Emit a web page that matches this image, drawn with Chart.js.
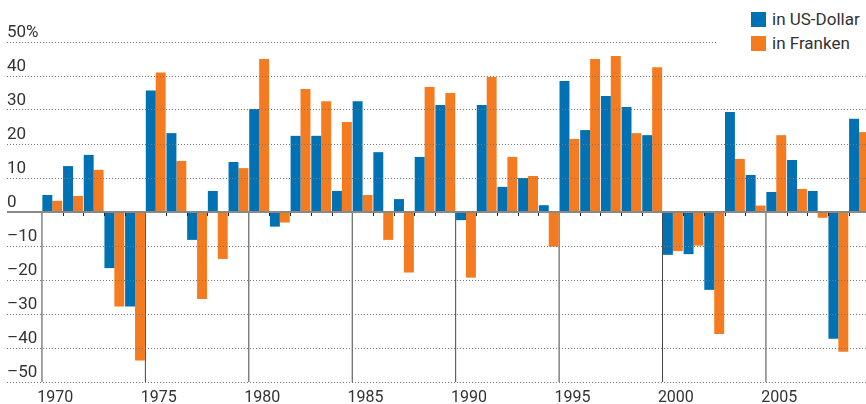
<!DOCTYPE html>
<html>
<head>
    <meta charset="UTF-8">
    <title>Rendite in US-Dollar und Franken</title>
    <script src="https://cdn.jsdelivr.net/npm/chart.js"></script>
    <style>
        html, body {
            margin: 0;
            padding: 0;
            overflow: hidden;
            background: #fff;
        }
        .wrap {
            position: relative;
            width: 866px;
            height: 404px;
            overflow: hidden;
        }
        .legend {
            position: absolute;
            left: 717px;
            top: 7px;
            width: 115px;
            padding-left: 34px;
            background: #fff;
            font-family: Roboto, sans-serif;
            font-size: 17px;
            color: #333;
        }
        .legend div {
            display: flex;
            align-items: center;
            height: 24px;
        }
        .legend span {
            display: inline-block;
            width: 15px;
            height: 15px;
            margin-right: 6px;
        }
    </style>
</head>
<body>
<div class="wrap">
    <canvas id="chart" width="870" height="404"></canvas>
    <div class="legend">
        <div><span style="background:#0071b2"></span>in US-Dollar</div>
        <div><span style="background:#f47b20"></span>in Franken</div>
    </div>
</div>

<script>
    const years = [
        1970, 1971, 1972, 1973, 1974, 1975, 1976, 1977, 1978, 1979,
        1980, 1981, 1982, 1983, 1984, 1985, 1986, 1987, 1988, 1989,
        1990, 1991, 1992, 1993, 1994, 1995, 1996, 1997, 1998, 1999,
        2000, 2001, 2002, 2003, 2004, 2005, 2006, 2007, 2008, 2009
    ];
    const usd = [
        5.0, 13.5, 16.8, -16.5, -27.8, 35.7, 23.2, -8.2, 6.2, 14.7,
        30.3, -4.3, 22.4, 22.4, 6.2, 32.6, 17.6, 3.8, 16.2, 31.5,
        -2.4, 31.5, 7.4, 10.0, 2.0, 38.5, 24.1, 34.1, 30.9, 22.6,
        -12.6, -12.4, -22.9, 29.4, 10.9, 5.9, 15.3, 6.2, -37.3, 27.4
    ];
    const chf = [
        3.3, 4.7, 12.4, -27.8, -43.7, 41.0, 15.0, -25.6, -13.8, 12.9,
        45.0, -3.1, 36.2, 32.6, 26.5, 5.0, -8.2, -17.8, 36.8, 35.0,
        -19.3, 39.7, 16.2, 10.6, -10.2, 21.5, 45.0, 45.9, 23.2, 42.6,
        -11.5, -9.9, -35.9, 15.6, 1.9, 22.6, 6.8, -1.7, -41.1, 23.5
    ];
    const yTicks = [-50, -40, -30, -20, -10, 0, 10, 20, 30, 40, 50];
    const xMin = 1967.81;
    const xMax = 2009.53;

    // year-boundary lines below zero: long ones every 5 years, short ticks otherwise
    const yearMarks = {
        id: 'yearMarks',
        beforeDatasetsDraw(chart) {
            const {ctx, chartArea, scales: {x, y}} = chart;
            const y0 = y.getPixelForValue(0);
            ctx.save();
            ctx.strokeStyle = '#444';
            ctx.lineWidth = 1;
            years.forEach(yr => {
                if (yr % 5 !== 0) return;
                const px = x.getPixelForValue(yr - 0.5);
                ctx.beginPath();
                ctx.moveTo(px, y0);
                ctx.lineTo(px, chartArea.bottom);
                ctx.stroke();
            });
            ctx.restore();
        },
        afterDatasetsDraw(chart) {
            const {ctx, scales: {x, y}} = chart;
            const y0 = y.getPixelForValue(0);
            ctx.save();
            ctx.strokeStyle = '#222';
            ctx.lineWidth = 1;
            years.forEach(yr => {
                if (yr % 5 === 0) return;
                const px = Math.round(x.getPixelForValue(yr - 0.5)) + 0.5;
                ctx.beginPath();
                ctx.moveTo(px, y0);
                ctx.lineTo(px, y0 + 4);
                ctx.stroke();
            });
            ctx.restore();
        }
    };

    Chart.defaults.font.family = 'Roboto, sans-serif';
    Chart.defaults.color = '#333';

    const chart = new Chart(document.getElementById('chart'), {
        type: 'bar',
        data: {
            datasets: [{
                label: 'in US-Dollar',
                data: years.map((yr, i) => ({x: yr, y: usd[i]})),
                backgroundColor: '#0071b2'
            }, {
                label: 'in Franken',
                data: years.map((yr, i) => ({x: yr, y: chf[i]})),
                backgroundColor: '#f47b20'
            }]
        },
        options: {
            responsive: false,
            animation: false,
            categoryPercentage: 0.96,
            barPercentage: 1,
            layout: {padding: {top: 42, left: 7, right: 0, bottom: 0}},
            plugins: {
                legend: {display: false},
                tooltip: {enabled: false}
            },
            scales: {
                x: {
                    type: 'linear',
                    min: xMin,
                    max: xMax,
                    offset: false,
                    grid: {display: false},
                    border: {display: false},
                    ticks: {
                        stepSize: 5,
                        includeBounds: false,
                        autoSkip: false,
                        maxRotation: 0,
                        padding: -2,
                        labelOffset: 3,
                        font: {size: 16},
                        callback: v => (v % 5 === 0 ? String(v) : '')
                    },
                    afterFit: s => { s.height = 22; }
                },
                y: {
                    min: -50,
                    max: 50,
                    afterBuildTicks: s => { s.ticks = yTicks.map(v => ({value: v})); },
                    grid: {
                        z: 1,
                        drawTicks: false,
                        color: c => (c.tick.value === 0 ? '#888' : '#777'),
                        lineWidth: c => (c.tick.value === 0 ? 2 : 1)
                    },
                    border: {
                        display: false,
                        dash: c => (c.tick.value === 0 ? [] : [1, 2])
                    },
                    ticks: {
                        mirror: true,
                        padding: 0,
                        labelOffset: -9,
                        font: {size: 17},
                        callback: v => (v === 50 ? '50%' : v < 0 ? '\u2013' + Math.abs(v) : String(v))
                    },
                    afterFit: s => { s.width = 0; }
                }
            }
        },
        plugins: [yearMarks]
    });
</script>
</body>
</html>
